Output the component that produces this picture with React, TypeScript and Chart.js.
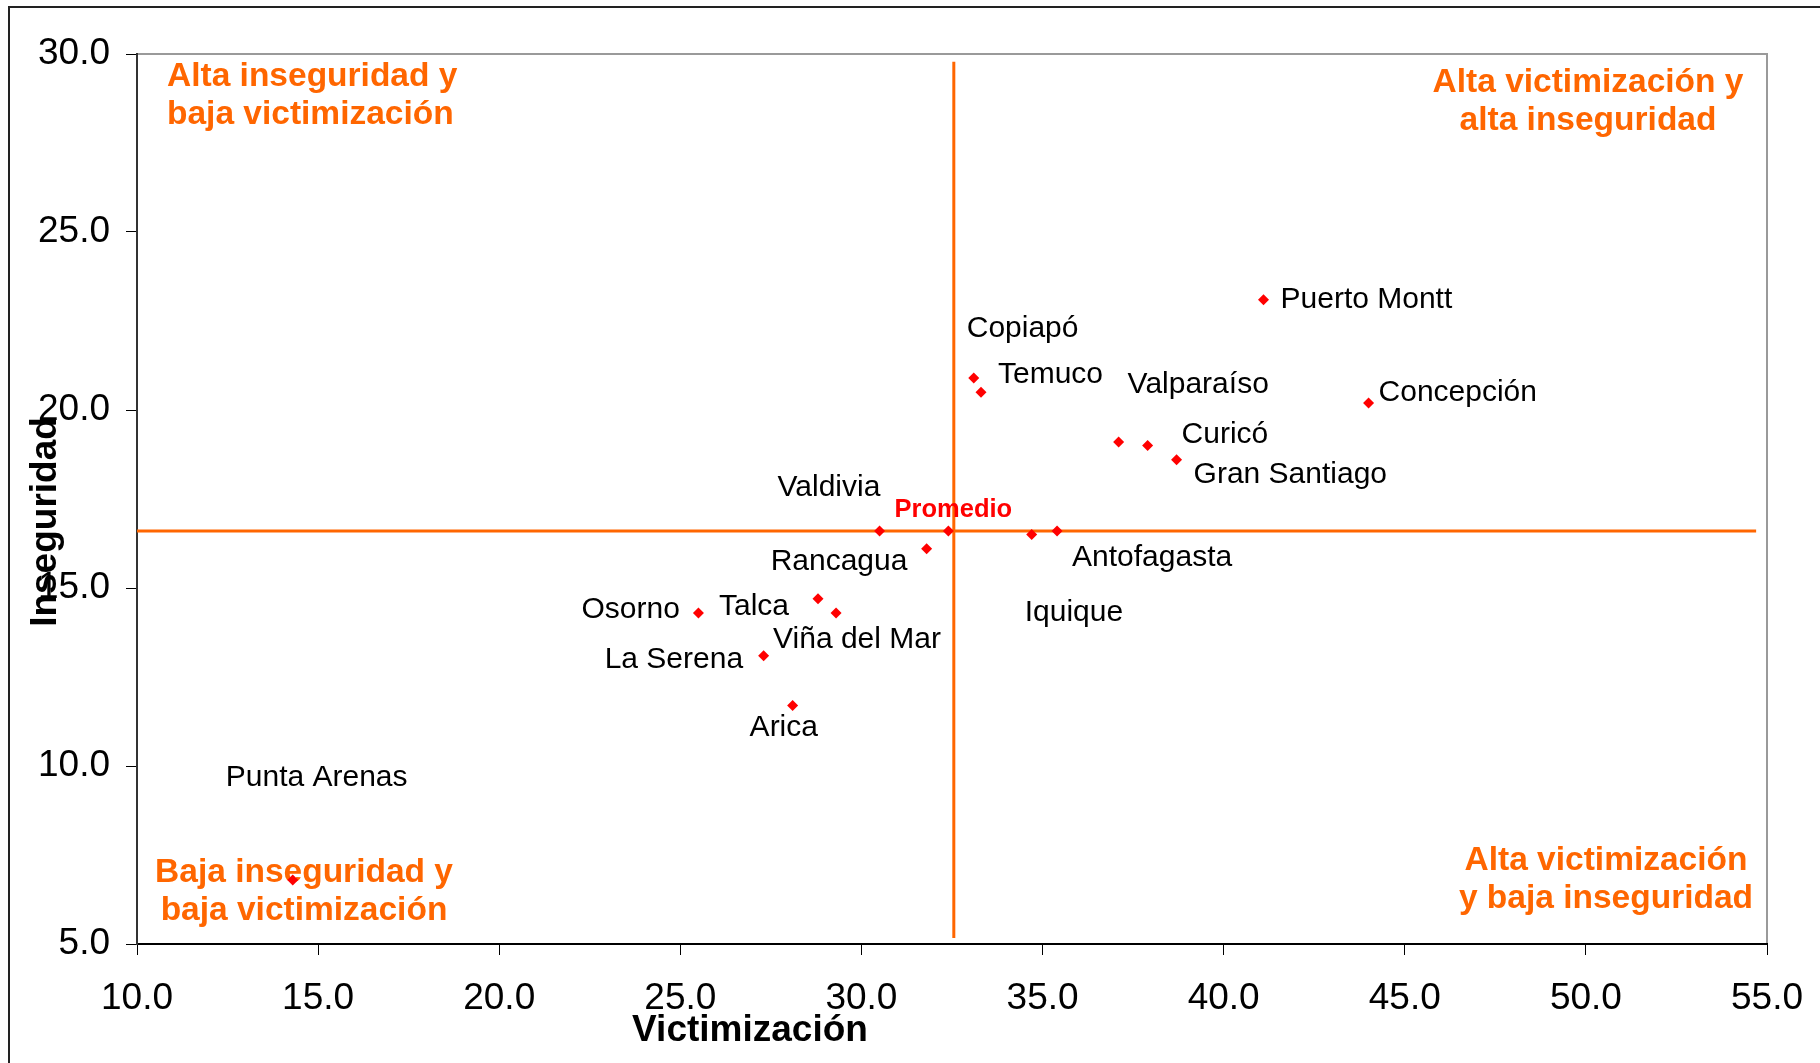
import { useEffect, useRef } from "react";
import { Chart, registerables } from "chart.js";

Chart.register(...registerables);

// ---- Data ----
const cities = [
  "Puerto Montt",
  "Concepción",
  "Copiapó",
  "Temuco",
  "Valparaíso",
  "Curicó",
  "Gran Santiago",
  "Valdivia",
  "Rancagua",
  "Iquique",
  "Antofagasta",
  "Osorno",
  "Talca",
  "Viña del Mar",
  "La Serena",
  "Arica",
  "Punta Arenas",
  "Promedio",
];
const victimizacion = [41.1, 44.0, 33.1, 33.3, 37.1, 37.9, 38.7, 30.5, 31.8, 34.7, 35.4, 25.5, 28.8, 29.3, 27.3, 28.1, 14.3, 32.4];
const inseguridad = [23.1, 20.2, 20.9, 20.5, 19.1, 19.0, 18.6, 16.6, 16.1, 16.5, 16.6, 14.3, 14.7, 14.3, 13.1, 11.7, 6.8, 16.6];

const promedioVictimizacion = 32.55;
const promedioInseguridad = 16.6;
const vLineRange = [5.17, 29.78];
const hLineRange = [10, 54.7];

const xTickValues = [10, 15, 20, 25, 30, 35, 40, 45, 50, 55];
const yTickValues = [5, 10, 15, 20, 25, 30];

const quadrantTexts = [
  ["Alta inseguridad y", "baja victimización"],
  ["Alta victimización y", "alta inseguridad"],
  ["Baja inseguridad y", "baja victimización"],
  ["Alta victimización", "y baja inseguridad"],
];

// ---- Layout / style (pixel offsets of labels relative to their point) ----
const labelOffsets: [number, number][] = [
  [17, 0],
  [10, -10],
  [-7, -49],
  [17, -17],
  [9, -57],
  [34, -11],
  [17, 15],
  [-102, -43],
  [-156, 13],
  [-7, 78],
  [15, 27],
  [-117, -3],
  [-99, 8],
  [-63, 27],
  [-159, 4],
  [-43, 22],
  [-67, -102],
  [5, -21],
];
// quadrant label anchors: [x, y of first line, align]
const quadrantLayout: [number, number, CanvasTextAlign][] = [
  [167, 77, "left"],
  [1588, 83, "center"],
  [304, 873, "center"],
  [1606, 861, "center"],
];

const ORANGE = "#FF6600";
const FONT = "'Liberation Sans', Arial, sans-serif";

export default function App() {
  const canvasRef = useRef<HTMLCanvasElement | null>(null);

  useEffect(() => {
    document.body.style.margin = "0";
    const canvas = canvasRef.current!;
    const points = victimizacion.map((x, i) => ({ x, y: inseguridad[i] }));

    const overlay = {
      id: "overlay",
      beforeDraw(chart: any) {
        const ctx = chart.ctx;
        ctx.save();
        ctx.fillStyle = "#fff";
        ctx.fillRect(0, 0, chart.width, chart.height);
        ctx.strokeStyle = "#222";
        ctx.lineWidth = 2;
        ctx.beginPath();
        ctx.moveTo(9, chart.height);
        ctx.lineTo(9, 7);
        ctx.lineTo(chart.width, 7);
        ctx.stroke();
        const a = chart.chartArea;
        ctx.strokeStyle = "#9a9a9a";
        ctx.lineWidth = 2;
        ctx.strokeRect(a.left, a.top, a.right - a.left, a.bottom - a.top);
        ctx.restore();
      },
      beforeDatasetsDraw(chart: any) {
        const ctx = chart.ctx;
        ctx.save();
        ctx.fillStyle = ORANGE;
        ctx.font = `bold 33.5px ${FONT}`;
        ctx.textBaseline = "middle";
        quadrantTexts.forEach((lines, qi) => {
          const [x, y, align] = quadrantLayout[qi];
          ctx.textAlign = align;
          lines.forEach((t, li) => ctx.fillText(t, x, y + li * 38));
        });
        ctx.restore();
      },
      afterDatasetsDraw(chart: any) {
        const ctx = chart.ctx;
        const xs = chart.scales.x;
        const ys = chart.scales.y;
        ctx.save();
        ctx.textBaseline = "middle";
        cities.forEach((name, i) => {
          const px = xs.getPixelForValue(victimizacion[i]);
          const py = ys.getPixelForValue(inseguridad[i]);
          const [dx, dy] = labelOffsets[i];
          if (name === "Promedio") {
            ctx.font = `bold 25.5px ${FONT}`;
            ctx.fillStyle = "#FF0000";
            ctx.textAlign = "center";
          } else {
            ctx.font = `30px ${FONT}`;
            ctx.fillStyle = "#000";
            ctx.textAlign = "left";
          }
          ctx.fillText(name, px + dx, py + dy);
        });
        // axis titles
        ctx.fillStyle = "#000";
        ctx.font = `bold 37px ${FONT}`;
        ctx.textAlign = "center";
        ctx.fillText("Victimización", 750, 1031);
        ctx.translate(46, 522);
        ctx.rotate(-Math.PI / 2);
        ctx.fillText("Inseguridad", 0, 0);
        ctx.restore();
      },
    };

    const chart = new Chart(canvas, {
      type: "scatter",
      data: {
        datasets: [
          {
            label: "Ciudades",
            data: points,
            pointStyle: "rectRot",
            pointRadius: 5.5,
            pointBackgroundColor: "#FF0000",
            pointBorderColor: "#FF0000",
            pointBorderWidth: 0,
          },
          {
            label: "Promedio victimización",
            data: vLineRange.map((y) => ({ x: promedioVictimizacion, y })),
            showLine: true,
            borderColor: ORANGE,
            borderWidth: 3,
            pointRadius: 0,
          },
          {
            label: "Promedio inseguridad",
            data: hLineRange.map((x) => ({ x, y: promedioInseguridad })),
            showLine: true,
            borderColor: ORANGE,
            borderWidth: 3,
            pointRadius: 0,
          },
        ],
      },
      options: {
        animation: false,
        responsive: false,
        devicePixelRatio: 1,
        layout: { padding: { top: 54, right: 53, left: 0, bottom: 0 } },
        plugins: { legend: { display: false }, tooltip: { enabled: false } },
        scales: {
          x: {
            type: "linear",
            min: xTickValues[0],
            max: xTickValues[xTickValues.length - 1],
            afterBuildTicks: (s: any) => {
              s.ticks = xTickValues.map((v) => ({ value: v }));
            },
            afterFit: (s: any) => {
              s.height = 119;
              s.paddingLeft = 0;
              s.paddingRight = 0;
            },
            ticks: {
              callback: (v: any) => Number(v).toFixed(1),
              color: "#000",
              font: { family: FONT, size: 37 },
              padding: 22,
              maxRotation: 0,
            },
            grid: { drawOnChartArea: false, tickLength: 11, tickColor: "#000", tickWidth: 1 },
            border: { color: "#000", width: 2 },
          },
          y: {
            type: "linear",
            min: yTickValues[0],
            max: yTickValues[yTickValues.length - 1],
            afterBuildTicks: (s: any) => {
              s.ticks = yTickValues.map((v) => ({ value: v }));
            },
            afterFit: (s: any) => {
              s.width = 137;
              s.paddingTop = 0;
              s.paddingBottom = 0;
            },
            ticks: {
              callback: (v: any) => Number(v).toFixed(1),
              color: "#000",
              font: { family: FONT, size: 37 },
              padding: 16,
            },
            grid: { drawOnChartArea: false, tickLength: 11, tickColor: "#000", tickWidth: 1 },
            border: { color: "#333", width: 2 },
          },
        },
      },
      plugins: [overlay],
    });
    return () => chart.destroy();
  }, []);

  return (
    <div style={{ width: 1820, height: 1063, position: "relative", background: "#fff" }}>
      <canvas ref={canvasRef} width={1820} height={1063} style={{ width: 1820, height: 1063, display: "block" }} />
    </div>
  );
}
